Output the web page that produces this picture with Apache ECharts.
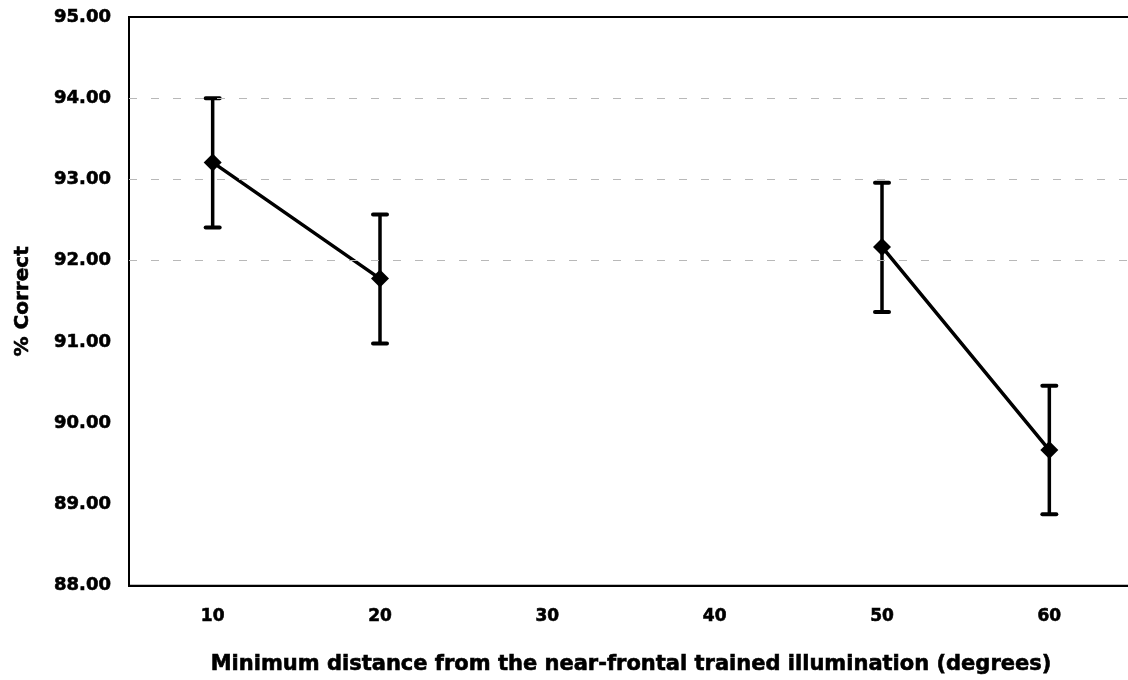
<!DOCTYPE html>
<html>
<head>
<meta charset="utf-8">
<script src="https://cdn.jsdelivr.net/npm/echarts@6/dist/echarts.min.js"></script>
<style>html,body{margin:0;padding:0;background:#fff;overflow:hidden;width:1128px;height:680px;}#c{width:1134px;height:680px;}</style>
</head>
<body>
<div id="c"></div>
<script>
var categories = ['10', '20', '30', '40', '50', '60'];
var means = [93.21, 91.78, null, null, 92.17, 89.67];
var lower = [92.41, 90.98, null, null, 91.37, 88.88];
var upper = [94.00, 92.57, null, null, 92.96, 90.46];
var yTicks = [88, 89, 90, 91, 92, 93, 94, 95];
var gridVals = [92, 93, 94];

var errData = [];
for (var i = 0; i < categories.length; i++) {
  if (means[i] !== null) errData.push([i, lower[i], upper[i]]);
}

var chart = echarts.init(document.getElementById('c'), null, {renderer: 'canvas'});
var fontFam = '"DejaVu Sans", "Liberation Sans", Arial, sans-serif';
var heavy = {textBorderColor: '#000', textBorderWidth: 0.6};
chart.setOption({
  animation: false,
  backgroundColor: '#fff',
  grid: {left: 129, width: 1004, top: 17, height: 571, show: true, borderColor: '#000', borderWidth: 2, backgroundColor: 'transparent'},
  xAxis: {
    type: 'category',
    data: categories,
    boundaryGap: true,
    axisLine: {show: true, lineStyle: {color: '#000', width: 2}},
    axisTick: {show: false},
    axisLabel: Object.assign({color: '#000', fontFamily: fontFam, fontWeight: 'bold', fontSize: 17, margin: 22}, heavy),
    name: 'Minimum distance from the near-frontal trained illumination (degrees)',
    nameLocation: 'middle',
    nameGap: 68,
    nameTextStyle: Object.assign({color: '#000', fontFamily: fontFam, fontWeight: 'bold', fontSize: 21}, heavy)
  },
  yAxis: {
    type: 'value',
    min: yTicks[0],
    max: yTicks[yTicks.length - 1],
    interval: 1,
    axisLine: {show: true, lineStyle: {color: '#000', width: 2}},
    axisTick: {show: false},
    axisLabel: Object.assign({color: '#000', fontFamily: fontFam, fontWeight: 'bold', fontSize: 18, margin: 18,
      formatter: function (v) { return v.toFixed(2); }}, heavy),
    splitLine: {show: false},
    name: '% Correct',
    nameLocation: 'middle',
    nameGap: 96,
    nameRotate: 90,
    nameTextStyle: Object.assign({color: '#000', fontFamily: fontFam, fontWeight: 'bold', fontSize: 20}, heavy)
  },
  series: [
    {
      type: 'custom',
      z: 3,
      renderItem: function (params, api) {
        var x = api.value(0);
        var lo = api.coord([x, api.value(1)]);
        var hi = api.coord([x, api.value(2)]);
        var w = 7;
        return {
          type: 'group',
          children: [
            {type: 'line', shape: {x1: lo[0], y1: lo[1], x2: hi[0], y2: hi[1]}, style: {stroke: '#000', lineWidth: 3.5}},
            {type: 'line', shape: {x1: lo[0] - w, y1: lo[1], x2: lo[0] + w, y2: lo[1]}, style: {stroke: '#000', lineWidth: 4, lineCap: 'round'}},
            {type: 'line', shape: {x1: hi[0] - w, y1: hi[1], x2: hi[0] + w, y2: hi[1]}, style: {stroke: '#000', lineWidth: 4, lineCap: 'round'}}
          ]
        };
      },
      encode: {x: 0, y: [1, 2]},
      data: errData
    },
    {
      type: 'line',
      z: 4,
      data: means,
      connectNulls: false,
      symbol: 'diamond',
      symbolSize: [18, 18],
      itemStyle: {color: '#000'},
      lineStyle: {color: '#000', width: 3.5},
      markLine: {
        silent: true,
        symbol: 'none',
        label: {show: false},
        lineStyle: {color: '#b8b8b8', type: [8, 14], width: 1},
        data: gridVals.map(function (v) { return {yAxis: v}; })
      }
    }
  ]
});
</script>
</body>
</html>
